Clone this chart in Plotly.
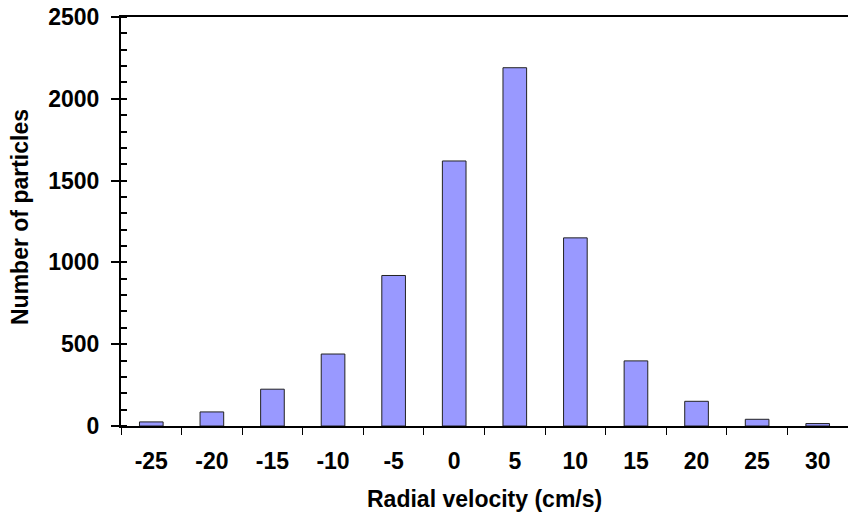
import plotly.graph_objects as go

categories = ["-25", "-20", "-15", "-10", "-5", "0", "5", "10", "15", "20", "25", "30"]
counts = [25, 86, 225, 440, 920, 1620, 2190, 1150, 398, 151, 41, 15]
y_ticks = [0, 500, 1000, 1500, 2000, 2500]

x_title = "Radial velocity (cm/s)"
y_title = "Number of particles"

W, H = 848, 519
ML, MR, MT, MB = 121, 0, 17, 93
FONT = "Liberation Sans, Arial, sans-serif"
FS = 23

fig = go.Figure()
fig.add_trace(go.Bar(
    x=categories, y=counts,
    marker=dict(color="#9999FF", line=dict(color="#222222", width=1)),
    showlegend=False,
))
# helper trace for the inner half of the y ticks
fig.add_trace(go.Scatter(x=[categories[0]], y=[0], yaxis="y2", mode="markers",
                         marker=dict(opacity=0), showlegend=False, hoverinfo="skip"))

fig.update_layout(
    width=W, height=H,
    margin=dict(l=ML, r=MR, t=MT, b=MB, autoexpand=False),
    plot_bgcolor="white", paper_bgcolor="white",
    bargap=0.61,
    font=dict(family=FONT, size=FS, color="black"),
    xaxis=dict(
        type="category", tickson="boundaries", automargin=False,
        showline=True, linecolor="black", linewidth=2, mirror=True,
        ticks="outside", ticklen=7, tickwidth=1, tickcolor="black",
        tickfont=dict(family=FONT, size=FS, color="black", weight="bold"),
        ticklabelstandoff=13,
        showgrid=False, zeroline=False,
        range=[-0.5, 11.5],
    ),
    yaxis=dict(
        range=[0, 2500], tickvals=y_ticks, automargin=False,
        showline=True, linecolor="black", linewidth=2,
        ticks="outside", ticklen=8, tickwidth=2, tickcolor="black",
        minor=dict(ticks="inside", dtick=100, ticklen=6, tickwidth=2, tickcolor="black"),
        tickfont=dict(family=FONT, size=FS, color="black", weight="bold"),
        ticklabelstandoff=7,
        showgrid=False, zeroline=False,
    ),
    yaxis2=dict(
        overlaying="y", side="left", range=[0, 2500], tickvals=y_ticks, automargin=False,
        ticks="inside", ticklen=6, tickwidth=2, tickcolor="black",
        showticklabels=False, showline=False, showgrid=False, zeroline=False,
    ),
    annotations=[
        dict(text=x_title, xref="paper", yref="paper",
             x=0.5, y=-(499 - (H - MB)) / (H - MT - MB),
             showarrow=False, xanchor="center", yanchor="middle",
             font=dict(family=FONT, size=FS, color="black", weight="bold")),
        dict(text=y_title, xref="paper", yref="paper", textangle=-90,
             x=-(ML - 20) / (W - ML - MR), y=1 - (217 - MT) / (H - MT - MB),
             showarrow=False, xanchor="center", yanchor="middle",
             font=dict(family=FONT, size=FS, color="black", weight="bold")),
    ],
)

fig.write_html(
    "out.html",
    config={"displayModeBar": False},
    post_script="document.body.style.margin='0';document.body.style.overflow='hidden';",
)
